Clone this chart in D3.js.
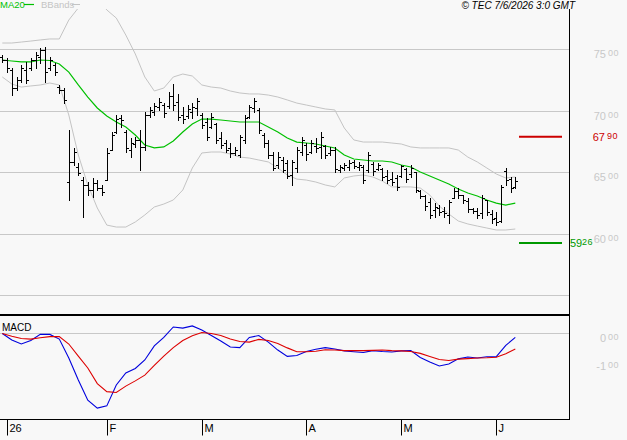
<!DOCTYPE html>
<html>
<head>
<meta charset="utf-8">
<title>TEC chart</title>
<style>
  body { margin: 0; background: #f8f8f8; }
  svg { display: block; font-family: "Liberation Sans", Arial, sans-serif; }
</style>
</head>
<body>
<div class="chart-area"></div>
<script src="https://d3js.org/d3.v7.min.js"></script>
<script>
// daily bars (one per trading day, Jan -> early Jun 2026)
var open = [74.37,74.13,73.32,71.85,72.50,73.32,73.48,74.13,74.37,74.94,73.48,73.72,71.93,71.69,64.21,65.80,65.43,64.37,63.97,63.56,64.13,63.72,64.37,66.81,68.28,69.41,68.28,66.81,67.30,67.63,67.06,69.66,69.90,70.31,70.47,70.39,71.20,70.72,69.66,69.58,69.90,70.23,69.66,69.09,68.68,68.93,67.79,67.38,66.98,66.57,66.41,67.63,69.50,70.23,70.07,68.03,67.38,66.41,65.59,66.00,65.76,64.78,65.35,66.65,67.22,66.65,67.14,67.06,67.14,66.57,66.81,65.19,65.35,65.43,65.84,65.43,65.43,65.19,65.67,65.27,65.27,64.70,64.45,64.54,64.70,65.27,64.86,65.02,63.48,63.07,62.58,61.93,62.10,61.85,61.53,62.91,63.48,63.15,62.66,62.02,61.85,61.69,62.75,61.61,61.28,61.04,65.10,64.45,63.81];
var high = [74.54,74.29,73.48,72.75,73.72,73.97,74.29,74.78,75.11,75.19,74.37,73.89,72.10,71.85,68.44,66.98,65.76,64.62,64.21,64.54,64.37,63.97,66.98,68.28,69.66,69.66,68.44,67.79,67.87,68.44,69.90,70.31,70.63,71.04,70.63,71.53,72.18,71.37,70.31,70.47,70.63,71.04,69.82,69.41,69.82,69.01,68.28,67.63,67.38,67.06,68.03,69.66,70.47,71.04,70.23,68.19,67.63,66.65,66.65,66.24,66.00,66.00,67.06,67.87,67.38,67.63,67.79,68.28,67.22,67.06,67.06,65.59,65.76,66.00,66.00,65.84,65.59,66.65,65.84,65.76,65.35,65.19,65.02,64.78,65.59,65.35,65.59,65.02,63.56,63.15,62.91,62.50,62.34,62.18,62.75,63.72,63.72,63.15,62.91,62.10,62.10,63.15,62.75,61.93,61.77,63.97,65.35,64.62,64.62];
var low = [73.97,73.15,71.28,71.69,72.34,72.26,73.32,73.48,73.89,72.34,73.32,72.91,71.45,70.63,62.75,65.59,64.78,61.37,63.15,62.99,63.56,63.15,64.37,66.81,68.19,68.68,66.65,66.24,67.06,65.19,66.81,69.50,69.66,70.07,69.50,70.23,70.07,69.25,69.01,69.41,69.41,69.66,68.60,67.63,68.60,67.38,66.98,66.65,66.24,66.41,66.24,67.38,69.41,69.90,68.19,67.06,66.16,65.19,65.35,65.02,64.54,63.97,65.02,66.41,66.00,66.57,66.65,66.16,66.16,66.41,65.02,65.02,65.19,65.19,65.35,65.19,64.13,65.02,64.78,65.19,64.37,64.13,63.97,63.56,64.62,64.21,64.62,63.40,62.91,61.93,61.28,61.37,61.53,61.37,60.88,62.91,62.91,62.50,61.77,61.69,61.28,61.28,61.53,60.88,60.71,60.96,63.97,63.40,63.72];
var close = [74.13,73.48,71.85,72.50,73.48,72.50,74.13,74.54,74.94,73.15,74.13,73.15,71.69,70.88,65.80,66.65,64.94,63.97,63.56,64.13,63.72,63.40,66.57,68.03,69.33,69.25,66.98,67.38,67.63,67.06,69.66,70.07,70.39,70.72,69.82,71.20,70.47,69.50,69.33,70.15,70.31,70.80,68.85,67.87,69.50,67.63,67.22,66.81,66.57,66.81,67.87,69.41,70.31,70.80,68.44,67.38,66.41,65.35,66.24,65.19,64.70,65.84,66.81,67.63,66.49,67.38,66.98,67.87,66.41,66.81,65.27,65.43,65.59,65.76,65.51,65.59,64.37,66.41,65.10,65.59,64.62,64.37,64.21,63.81,65.51,64.45,65.35,63.56,63.07,62.26,61.53,62.18,61.77,61.69,62.58,63.48,63.15,62.75,62.02,61.85,61.53,62.91,61.77,61.20,60.96,63.81,64.37,63.72,64.29];

// indicator lines, read every second bar
var ma20 = [74.13,74.05,73.97,73.97,74.13,74.09,73.80,73.15,72.10,71.12,70.23,69.58,69.09,68.68,68.03,67.22,66.98,67.06,67.54,68.28,68.93,69.33,69.33,69.25,69.17,69.09,69.09,69.09,68.68,68.28,67.79,67.46,67.38,67.30,67.14,66.98,66.41,66.08,66.00,65.92,65.92,65.84,65.59,65.43,65.02,64.70,64.37,64.05,63.64,63.32,63.07,62.75,62.50,62.34,62.50];
var bbUpper = [75.51,75.51,75.59,75.67,75.76,75.84,75.84,77.38,78.36,79.17,79.17,78.20,77.54,76.16,74.62,72.75,71.61,71.85,72.75,72.99,72.83,72.10,71.93,71.85,71.61,71.45,71.37,71.37,71.28,71.12,70.88,70.63,70.47,70.31,70.15,70.07,68.60,67.63,67.46,67.46,67.46,67.38,67.30,67.06,66.98,66.98,66.98,66.98,66.81,66.24,65.84,65.35,64.86,64.54,64.62];
var bbLower = [72.75,72.18,71.93,72.02,72.10,72.26,72.10,69.66,66.41,63.97,62.10,60.71,60.55,60.55,60.96,61.53,62.18,62.42,62.75,63.56,65.35,66.57,66.65,66.65,66.49,66.24,66.16,66.00,65.84,65.35,64.78,64.45,64.37,64.21,63.97,63.81,64.54,64.70,64.78,64.62,64.29,63.81,63.81,63.81,63.72,63.15,62.26,61.61,61.04,60.80,60.63,60.47,60.31,60.31,60.39];
var macd = [-0.01,-0.24,-0.39,-0.26,-0.04,-0.04,-0.21,-0.90,-1.70,-2.43,-2.72,-2.64,-1.88,-1.44,-1.28,-0.97,-0.46,-0.15,0.23,0.19,0.27,0.12,-0.08,-0.28,-0.50,-0.52,-0.15,-0.08,-0.32,-0.61,-0.84,-0.81,-0.66,-0.58,-0.52,-0.57,-0.64,-0.67,-0.70,-0.63,-0.66,-0.68,-0.64,-0.63,-0.88,-1.04,-1.19,-1.12,-0.93,-0.86,-0.90,-0.85,-0.85,-0.44,-0.15];
var signal = [-0.01,-0.11,-0.19,-0.21,-0.16,-0.12,-0.12,-0.39,-0.83,-1.26,-1.83,-2.12,-2.15,-1.92,-1.73,-1.52,-1.17,-0.83,-0.52,-0.26,-0.09,0.03,-0.01,-0.08,-0.21,-0.30,-0.32,-0.22,-0.26,-0.37,-0.53,-0.67,-0.67,-0.65,-0.60,-0.61,-0.63,-0.63,-0.63,-0.62,-0.61,-0.63,-0.64,-0.66,-0.73,-0.84,-0.95,-0.99,-0.94,-0.92,-0.90,-0.89,-0.87,-0.74,-0.57];

// axis stuff
var monthTickIdx = [1, 22, 42, 64, 84, 104];
var monthLabels = ["26", "F", "M", "A", "M", "J"];
var priceGrid = [75, 70, 65, 60, 55];
var priceLabels = [75, 70, 65, 60];
var macdLabels = [0, -1];
var resistance = 67.90;
var support = 59.26;

var width = 627, height = 440;
var plotRight = 569;
var mainTop = 9, mainBottom = 314;
var macdTop = 316, macdBottom = 419;

var svg = d3.select(".chart-area")
  .append("svg")
    .attr("width", width)
    .attr("height", height);

svg.append("rect").attr("width", width).attr("height", height).attr("fill", "#f8f8f8");

var x = d3.scaleLinear().domain([0, open.length - 1]).range([2.3, 515.3]);
var y = d3.scaleLinear().domain([55, 75]).range([295.3, 49.3]);
var ym = d3.scaleLinear().domain([-1, 0]).range([360.8, 333.3]);

function px(v) { return Math.round(v) + 0.5; }
// "75.00" -> ["75", "00"], plain hyphen for negatives
function parts(v) { return d3.format(".2f")(v).replace("\u2212", "-").split("."); }

var defs = svg.append("defs");
defs.append("clipPath").attr("id", "clipMain")
  .append("rect").attr("x", 0).attr("y", mainTop).attr("width", plotRight).attr("height", mainBottom - mainTop);
defs.append("clipPath").attr("id", "clipMacd")
  .append("rect").attr("x", 0).attr("y", macdTop).attr("width", plotRight).attr("height", macdBottom - macdTop);

// gridlines
svg.append("g").selectAll("line")
  .data(priceGrid)
  .enter().append("line")
    .attr("x1", 0).attr("x2", plotRight)
    .attr("y1", d => px(y(d))).attr("y2", d => px(y(d)))
    .attr("stroke", "#c8c8c8");
svg.append("line")
  .attr("x1", 0).attr("x2", plotRight)
  .attr("y1", px(ym(0))).attr("y2", px(ym(0)))
  .attr("stroke", "#c8c8c8");

// price labels, decimals drawn small and raised
function splitLabel(g, v, yy, color, xr) {
  var s = parts(v);
  g.append("text").attr("x", xr).attr("y", yy).attr("text-anchor", "end")
    .attr("font-size", 11).attr("fill", color).text(s[0]);
  g.append("text").attr("x", xr + 2).attr("y", yy - 2)
    .attr("font-size", 9).attr("letter-spacing", 0.6).attr("fill", color).text(s[1]);
}
var labG = svg.append("g");
priceLabels.forEach(v => splitLabel(labG, v, y(v) + 9, "#c8c8c8", 606));
macdLabels.forEach(v => splitLabel(labG, v, ym(v) + 9, "#c8c8c8", 606));

// bollinger + ma20
var main = svg.append("g").attr("clip-path", "url(#clipMain)");
var line = d3.line().x((d, i) => x(i * 2)).y(d => y(d));
[bbUpper, bbLower].forEach(function(s) {
  main.append("path").datum(s).attr("d", line)
    .attr("fill", "none").attr("stroke", "#c4c4c4").attr("stroke-width", 1);
});
main.append("path").datum(ma20).attr("d", line)
  .attr("fill", "none").attr("stroke", "#00c000").attr("stroke-width", 1.2);

// OHLC bars
main.append("g").selectAll("path")
  .data(open.map((o, i) => i))
  .enter().append("path")
    .attr("d", function(i) {
      var xx = px(x(i));
      return "M" + xx + "," + Math.round(y(high[i])) + "V" + (Math.round(y(low[i])) + 1) +
        "M" + (xx - 2.5) + "," + px(y(open[i])) + "H" + xx +
        "M" + xx + "," + px(y(close[i])) + "H" + (xx + 2.5);
    })
    .attr("fill", "none").attr("stroke", "#000").attr("stroke-width", 1)
    .attr("shape-rendering", "crispEdges");

// support / resistance levels
var lv = svg.append("g");
lv.append("line").attr("x1", 519).attr("x2", 562)
  .attr("y1", y(resistance)).attr("y2", y(resistance))
  .attr("stroke", "#cc0000").attr("stroke-width", 2);
lv.append("line").attr("x1", 519).attr("x2", 562)
  .attr("y1", y(support)).attr("y2", y(support))
  .attr("stroke", "#009900").attr("stroke-width", 2);
splitLabel(lv, resistance, y(resistance) + 4, "#cc0000", 605);
var ss = parts(support);
lv.append("text").attr("x", 570).attr("y", y(support) + 4.5)
  .attr("font-size", 11).attr("fill", "#009900").text(ss[0]);
lv.append("text").attr("x", 582).attr("y", y(support) + 2.5)
  .attr("font-size", 9).attr("letter-spacing", 0.6).attr("fill", "#009900").text(ss[1]);

// MACD panel
var mg = svg.append("g").attr("clip-path", "url(#clipMacd)");
var mline = d3.line().x((d, i) => x(i * 2)).y(d => ym(d));
mg.append("path").datum(macd).attr("d", mline)
  .attr("fill", "none").attr("stroke", "#0000dd").attr("stroke-width", 1.1);
mg.append("path").datum(signal).attr("d", mline)
  .attr("fill", "none").attr("stroke", "#dd0000").attr("stroke-width", 1.1);

// frame
svg.append("line").attr("x1", plotRight + 0.5).attr("x2", plotRight + 0.5)
  .attr("y1", mainTop).attr("y2", macdBottom + 0.5).attr("stroke", "#000");
svg.append("line").attr("x1", 0).attr("x2", plotRight)
  .attr("y1", 315).attr("y2", 315).attr("stroke", "#000").attr("stroke-width", 2);
svg.append("line").attr("x1", 0).attr("x2", plotRight + 1)
  .attr("y1", macdBottom + 0.5).attr("y2", macdBottom + 0.5).attr("stroke", "#000");

// month axis
var xAxis = svg.append("g")
  .attr("transform", "translate(0," + (macdBottom + 0.5) + ")")
  .call(d3.axisBottom(x).tickValues(monthTickIdx)
    .tickFormat((d, i) => monthLabels[i]).tickSize(16).tickSizeOuter(0));
xAxis.select(".domain").remove();
xAxis.selectAll(".tick").attr("transform", d => "translate(" + px(x(d)) + ",0)");
xAxis.selectAll(".tick line").attr("stroke", "#000");
xAxis.selectAll(".tick text")
  .attr("x", 2).attr("y", 5).attr("dy", "0.71em")
  .attr("text-anchor", "start")
  .attr("font-size", 11).attr("font-family", "Liberation Sans, Arial, sans-serif")
  .attr("fill", "#000");

// legend and header
svg.append("text").attr("x", 0).attr("y", 8).attr("font-size", 9.5)
  .attr("fill", "#00c000").text("MA20");
svg.append("line").attr("x1", 24).attr("x2", 34).attr("y1", 4.5).attr("y2", 4.5)
  .attr("stroke", "#00c000").attr("stroke-width", 1.2);
svg.append("text").attr("x", 41).attr("y", 8).attr("font-size", 9.5)
  .attr("fill", "#c4c4c4").text("BBands");
svg.append("line").attr("x1", 72).attr("x2", 80).attr("y1", 4.5).attr("y2", 4.5)
  .attr("stroke", "#c4c4c4");
svg.append("text").attr("x", 575).attr("y", 8.5).attr("text-anchor", "end")
  .attr("font-size", 10).attr("font-style", "italic").attr("fill", "#000")
  .text("© TEC 7/6/2026 3:0 GMT");
svg.append("text").attr("x", 2).attr("y", 331).attr("font-size", 10)
  .attr("fill", "#000").text("MACD");
</script>
</body>
</html>
